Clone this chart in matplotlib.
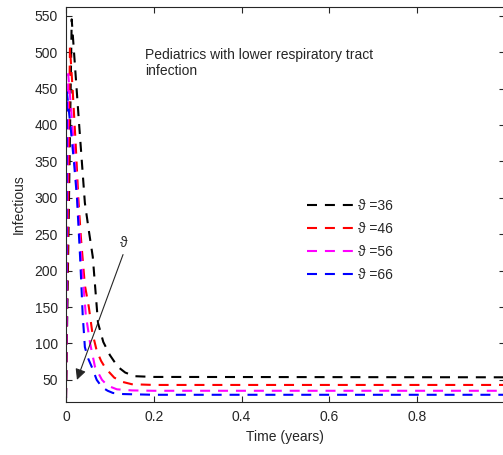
import numpy as np
import matplotlib
matplotlib.use("Agg")
import matplotlib.pyplot as plt

plt.rcParams['font.family'] = ['Liberation Sans', 'DejaVu Sans']

# values
black_t = [0, 0.013, 0.02, 0.03, 0.043, 0.052, 0.061, 0.073, 0.085, 0.1, 0.118, 0.135, 0.157, 0.2, 1.0]
black_v = [25, 545, 485, 400, 293, 255, 219, 128, 102, 84, 68, 60, 55, 54, 53.5]

red_t = [0, 0.009, 0.015, 0.022, 0.028, 0.034, 0.043, 0.052, 0.06, 0.07, 0.08, 0.09, 0.11, 0.13, 0.15, 0.2, 1.0]
red_v = [25, 507, 450, 375, 300, 245, 180, 150, 115, 90, 76, 66, 53, 47, 44, 43, 43]

magenta_t = [0, 0.005, 0.012, 0.018, 0.025, 0.03, 0.037, 0.045, 0.055, 0.066, 0.082, 0.095, 0.116, 0.15, 0.2, 1.0]
magenta_v = [25, 470, 420, 370, 310, 260, 200, 140, 100, 68, 50, 42, 37, 35.5, 35, 35]

blue_t = [0, 0.002, 0.01, 0.018, 0.025, 0.032, 0.038, 0.043, 0.05, 0.06, 0.07, 0.082, 0.095, 0.107, 0.13, 0.2, 1.0]
blue_v = [25, 445, 400, 350, 300, 220, 140, 95, 80, 66, 50, 40, 35, 32, 30.5, 29.5, 29.5]

series = [(black_t, black_v, 'k', '\u03d1 =36'),
          (red_t, red_v, '#ff0000', '\u03d1 =46'),
          (magenta_t, magenta_v, '#ff00ff', '\u03d1 =56'),
          (blue_t, blue_v, '#0000ff', '\u03d1 =66')]

yticks = [50, 100, 150, 200, 250, 300, 350, 400, 450, 500, 550]
xticks = [0, 0.2, 0.4, 0.6, 0.8, 1.0]
xticklabels = ['0', '0.2', '0.4', '0.6', '0.8', '']  # "1" falls off the picture's edge

fig = plt.figure(figsize=(5.03, 4.55), dpi=100)
ax = fig.add_axes([66/503, 1-401.7/455, 438.75/503, (401.7-7.3)/455])

for t, v, c, lab in series:
    ax.plot(t, v, color=c, lw=1.5, ls=(0, (4.8, 3.8)), label=lab)

ax.set_xlim(0, 1)
ax.set_ylim(20, 561.5)
ax.set_xticks(xticks)
ax.set_xticklabels(xticklabels)
ax.set_yticks(yticks)
ax.tick_params(direction='in', top=True, right=True, length=4, width=0.8,
               labelsize=10, colors='#262626', pad=6)
for s in ax.spines.values():
    s.set_color('#262626')
    s.set_linewidth(0.8)

ax.set_xlabel('Time (years)', fontsize=10, color='#262626', labelpad=4)
ax.set_ylabel('Infectious', fontsize=10, color='#262626', labelpad=6)

ax.text(0.18, 506, 'Pediatrics with lower respiratory tract\ninfection',
        fontsize=10, color='#262626', va='top', ha='left', linespacing=1.2)

ax.annotate('', xy=(0.025, 50), xytext=(0.13, 222),
            arrowprops=dict(arrowstyle='-|>', color='#262626', lw=0.8,
                            mutation_scale=16, shrinkA=0, shrinkB=0))
ax.text(0.132, 238, '\u03d1', fontsize=10, ha='center', va='center', color='#262626')

leg = ax.legend(loc='upper left', bbox_to_anchor=(307/503, 1-199/455),
                bbox_transform=fig.transFigure, frameon=False, fontsize=10,
                handlelength=3.3, handletextpad=0.35, labelspacing=0.65,
                borderpad=0, borderaxespad=0)
for txt in leg.get_texts():
    txt.set_color('#262626')

fig.savefig('out.png', dpi=100)
